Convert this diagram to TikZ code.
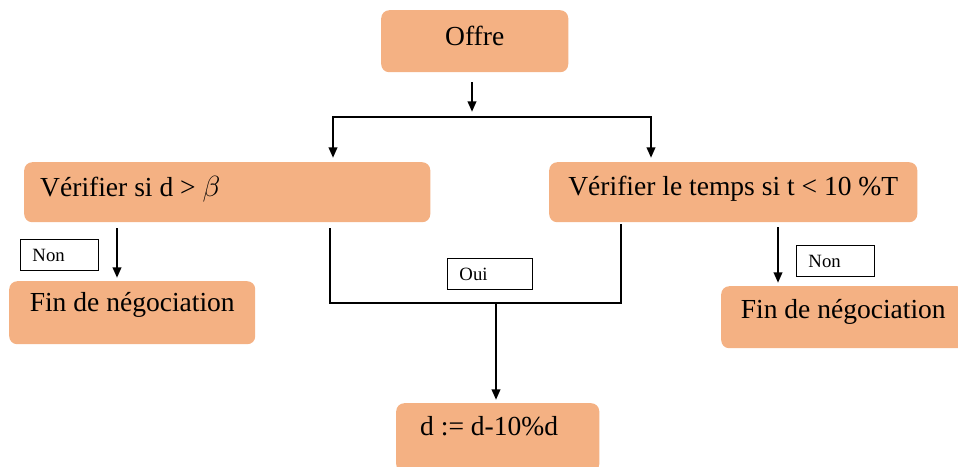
\documentclass[tikz,border=0pt]{standalone}
\usepackage{fontspec}
\setmainfont{Liberation Serif}
\usetikzlibrary{arrows.meta}
\definecolor{saumon}{RGB}{244,177,131}
\tikzset{
  etape/.style={fill=saumon, rounded corners=0.24cm, anchor=north west, inner ysep=0pt, font=\fontsize{23.5}{28}\selectfont},
  etiq/.style={draw, fill=white, line width=0.8pt, anchor=north west, inner xsep=0.36cm, inner ysep=0pt, text width=1.62cm, align=flush left, text height=0.67cm, text depth=0.27cm, font=\fontsize{16}{19}\selectfont},
  trait/.style={line width=2.2pt},
  pointe/.tip={Triangle[length=9pt,width=7pt]},
  fleche/.style={trait, -pointe}
}
\begin{document}
\begin{tikzpicture}[x=0.03cm,y=-0.03cm]
  \useasboundingbox (0,0) rectangle (958,466);

  \node[etape, minimum width=5.61cm, text height=1.05cm, text depth=0.81cm] (offre) at (381,10) {Offre};
  \node[etape, text width=11.22cm, inner xsep=0.48cm, align=flush left, text height=1.02cm, text depth=0.78cm] (verifD) at (24,162) {Vérifier si d > $\beta$};
  \node[etape, minimum width=11.04cm, text height=0.99cm, text depth=0.81cm] (verifT) at (549,162) {Vérifier le temps si t < 10 \%T};
  \node[etape, minimum width=7.38cm, text height=0.9cm, text depth=0.99cm] (finG) at (9,281) {Fin de négociation};
  \node[etape, minimum width=7.32cm, text height=0.96cm, text depth=0.9cm] (finD) at (721,286) {Fin de négociation};
  \node[etape, text width=4.65cm, inner xsep=0.72cm, align=flush left, text height=0.96cm, text depth=1.11cm] (calcul) at (396,403) {d := d-10\%d};

  \node[etiq] (nonG) at (20,239) {Non};
  \node[etiq, text width=1.83cm] (labOui) at (447,258) {Oui};
  \node[etiq] (nonD) at (796,245) {Non};

  \coordinate (barreM) at (472,117);
  \coordinate (barreG) at (333,117);
  \coordinate (barreD) at (651,117);
  \coordinate (flecheG) at (117,0);
  \coordinate (flecheD) at (778,0);
  \coordinate (coudeG) at (330,303);
  \coordinate (coudeD) at (621,303);
  \coordinate (jonction) at (496,303);

  \draw[fleche, shorten <=0.3cm, shorten >=0.15cm] (offre.south -| barreM) -- (barreM);
  \draw[trait, pointe-pointe, shorten <=0.12cm, shorten >=0.12cm] (verifD.north -| barreG) -- (barreG) -- (barreD) -- (verifT.north -| barreD);
  \draw[fleche, shorten <=0.18cm, shorten >=0.09cm] (verifD.south -| flecheG) -- (finG.north -| flecheG);
  \draw[fleche, shorten <=0.15cm, shorten >=0.09cm] (verifT.south -| flecheD) -- (finD.north -| flecheD);
  \draw[trait, shorten <=0.18cm, shorten >=0.06cm] (verifD.south -| coudeG) -- (coudeG) -- (coudeD) -- (verifT.south -| coudeD);
  \draw[fleche, shorten >=0.09cm] (jonction) -- (calcul.north -| jonction);
\end{tikzpicture}
\end{document}
